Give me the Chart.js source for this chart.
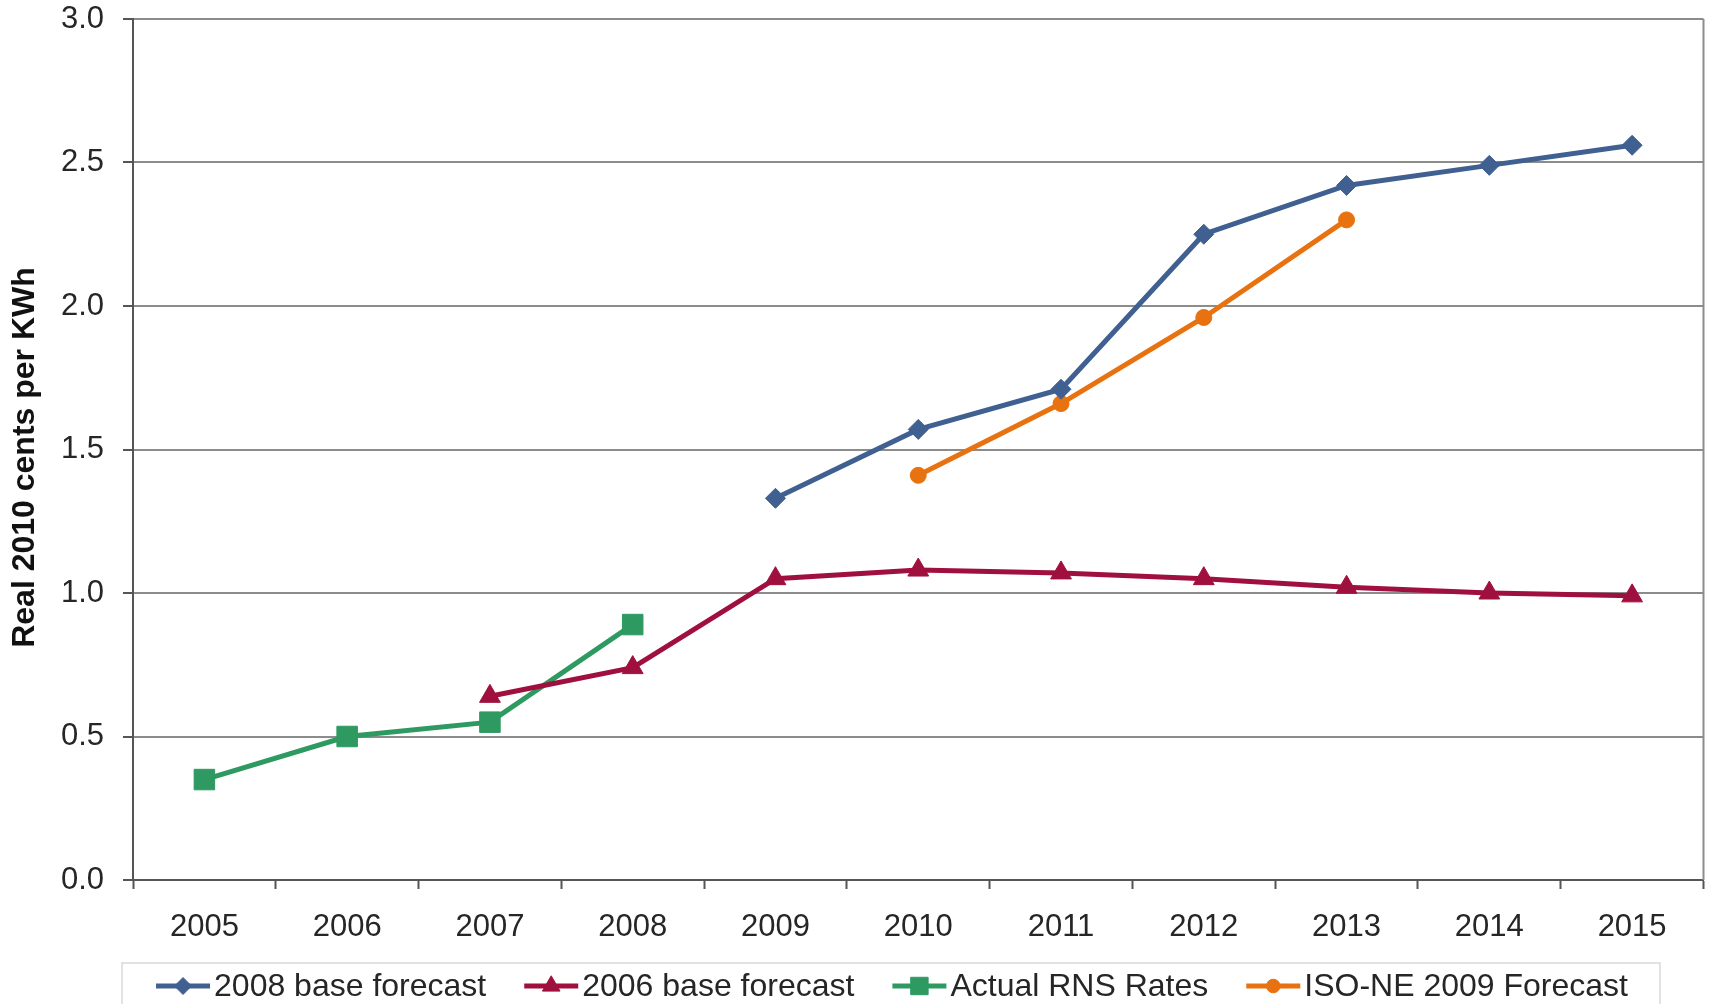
<!DOCTYPE html>
<html>
<head>
<meta charset="utf-8">
<title>Real 2010 cents per KWh</title>
<script src="https://cdn.jsdelivr.net/npm/chart.js@4/dist/chart.umd.min.js"></script>
<style>
  html, body { margin: 0; padding: 0; background: #ffffff; }
  #wrap { position: relative; width: 1719px; height: 1004px; }
</style>
</head>
<body>
<div id="wrap"><canvas id="chart" width="1719" height="1004"></canvas></div>
<script>
// Years on the category axis
const years = ['2005', '2006', '2007', '2008', '2009', '2010', '2011', '2012', '2013', '2014', '2015'];

// Series values, real 2010 cents per kWh (null = no value for that year)
const base2008 = [null, null, null, null, 1.33, 1.57, 1.71, 2.25, 2.42, 2.49, 2.56];
const base2006 = [null, null, 0.64, 0.74, 1.05, 1.08, 1.07, 1.05, 1.02, 1.00, 0.99];
const actualRns = [0.35, 0.50, 0.55, 0.89, null, null, null, null, null, null, null];
const isoNe2009 = [null, null, null, null, null, 1.41, 1.66, 1.96, 2.30, null, null];

// Value-axis ticks
const yTicks = [0.0, 0.5, 1.0, 1.5, 2.0, 2.5, 3.0];

const seriesNames = ['2008 base forecast', '2006 base forecast', 'Actual RNS Rates', 'ISO-NE 2009 Forecast'];
const yTitle = 'Real 2010 cents per KWh';

const FONT = '"Liberation Sans", Arial, sans-serif';
const TEXT = '#262626';

function series(label, data, color, style, radius) {
  return {
    label, data,
    borderColor: color,
    backgroundColor: color,
    borderWidth: 5,
    pointStyle: style,
    pointRadius: radius,
    pointHoverRadius: radius,
    pointBorderWidth: 1,
    pointBorderColor: color,
    pointBackgroundColor: color,
    spanGaps: false,
    tension: 0,
    fill: false
  };
}

// Vertical axis title, drawn a little below the plot's mid-height
const axisTitle = {
  id: 'axisTitle',
  afterDraw(chart) {
    const { ctx, chartArea: a } = chart;
    ctx.save();
    ctx.translate(25, (a.top + a.bottom) / 2 + 8);
    ctx.rotate(-Math.PI / 2);
    ctx.font = 'bold 32px ' + FONT;
    ctx.fillStyle = '#111111';
    ctx.textAlign = 'center';
    ctx.textBaseline = 'middle';
    ctx.fillText(yTitle, 0, 0);
    ctx.restore();
  }
};

// Legend strip under the axis: line + marker swatch followed by the name
const bottomLegend = {
  id: 'bottomLegend',
  afterDraw(chart) {
    const ctx = chart.ctx;
    const boxL = 122, boxR = 1660, boxT = 963, boxB = 1010;
    ctx.save();
    ctx.strokeStyle = '#d9d9d9';
    ctx.lineWidth = 1.5;
    ctx.strokeRect(boxL, boxT, boxR - boxL, boxB - boxT);

    ctx.font = '32px ' + FONT;
    ctx.textBaseline = 'middle';
    ctx.fillStyle = TEXT;
    const swatch = 58, gapText = 2, gapItem = 36;
    const ds = chart.data.datasets;
    let total = 0;
    ds.forEach((d, i) => {
      total += swatch + gapText + ctx.measureText(d.label).width;
      if (i < ds.length - 1) total += gapItem;
    });
    let x = (boxL + boxR) / 2 - total / 2;
    const y = 986;
    ds.forEach(d => {
      ctx.strokeStyle = d.borderColor;
      ctx.lineWidth = 5;
      ctx.beginPath();
      ctx.moveTo(x + 2, y);
      ctx.lineTo(x + swatch - 2, y);
      ctx.stroke();
      ctx.fillStyle = d.borderColor;
      ctx.strokeStyle = d.borderColor;
      ctx.lineWidth = 1;
      Chart.helpers.drawPoint(ctx, { pointStyle: d.pointStyle, radius: d.pointRadius * 0.85, rotation: 0, borderWidth: 1 }, x + swatch / 2, y);
      ctx.fillStyle = TEXT;
      ctx.textAlign = 'left';
      ctx.fillText(d.label, x + swatch + gapText, y + 1);
      x += swatch + gapText + ctx.measureText(d.label).width + gapItem;
    });
    ctx.restore();
  }
};

// Right-hand edge of the plot area
const plotFrame = {
  id: 'plotFrame',
  beforeDatasetsDraw(chart) {
    const { ctx, chartArea: a } = chart;
    ctx.save();
    ctx.strokeStyle = '#8c8c8c';
    ctx.lineWidth = 2;
    ctx.beginPath();
    ctx.moveTo(a.right, a.top);
    ctx.lineTo(a.right, a.bottom);
    ctx.stroke();
    ctx.restore();
  }
};

new Chart(document.getElementById('chart'), {
  type: 'line',
  data: {
    labels: years,
    datasets: [
      series(seriesNames[0], base2008, '#3f6090', 'rectRot', 10),
      series(seriesNames[1], base2006, '#a0103f', 'triangle', 12),
      series(seriesNames[2], actualRns, '#2e9a62', 'rect', 14.5),
      series(seriesNames[3], isoNe2009, '#e8720f', 'circle', 8)
    ]
  },
  options: {
    responsive: false,
    animation: false,
    devicePixelRatio: 1,
    layout: { padding: { top: 19, right: 8, left: 0, bottom: 0 } },
    plugins: {
      legend: { display: false },
      tooltip: { enabled: false },
      title: { display: false }
    },
    scales: {
      x: {
        type: 'category',
        offset: true,
        afterFit(s) { s.height = 124; },
        grid: {
          offset: true,
          drawOnChartArea: false,
          drawTicks: true,
          tickLength: 9,
          tickColor: '#555555',
          tickWidth: 2
        },
        border: { display: true, color: '#555555', width: 2 },
        ticks: {
          color: TEXT,
          font: { family: FONT, size: 31 },
          padding: 20,
          maxRotation: 0,
          autoSkip: false
        }
      },
      y: {
        min: 0,
        max: 3,
        afterFit(s) { s.width = 133; s.paddingTop = 0; s.paddingBottom = 0; },
        afterBuildTicks(s) { s.ticks = yTicks.map(v => ({ value: v })); },
        grid: {
          color: '#8c8c8c',
          lineWidth: 2,
          drawTicks: true,
          tickLength: 10,
          tickColor: '#555555',
          tickWidth: 2
        },
        border: { display: true, color: '#555555', width: 2 },
        ticks: {
          color: TEXT,
          font: { family: FONT, size: 31 },
          padding: 19,
          callback: v => Number(v).toFixed(1)
        },
        title: { display: false }
      }
    }
  },
  plugins: [plotFrame, axisTitle, bottomLegend]
});
</script>
</body>
</html>
